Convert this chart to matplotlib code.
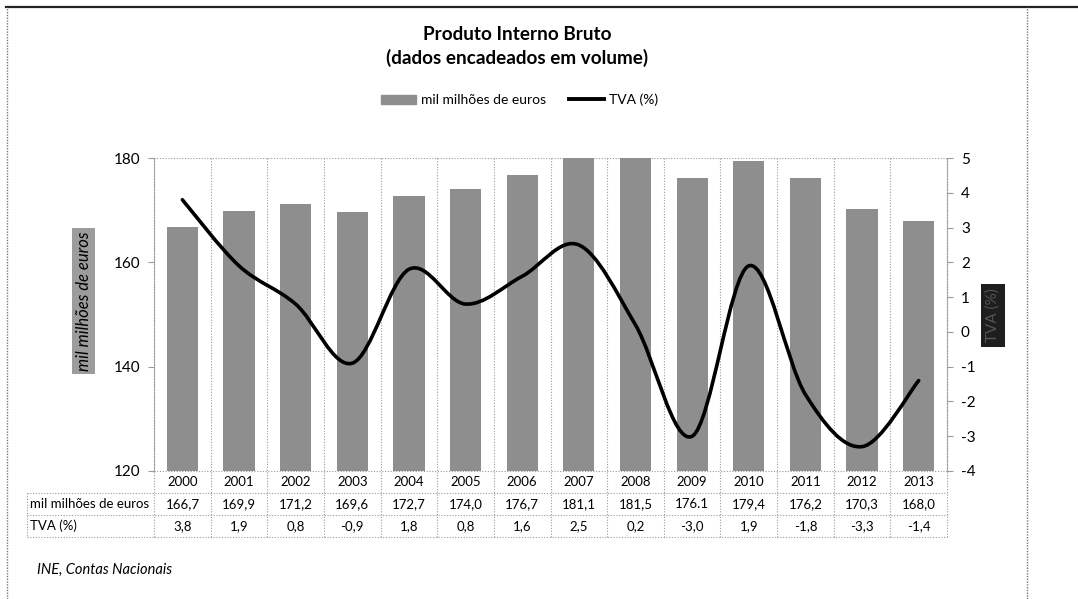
import matplotlib
matplotlib.use("Agg")
import matplotlib.pyplot as plt
from matplotlib.path import Path
from matplotlib.patches import PathPatch, Rectangle
from matplotlib.lines import Line2D
from matplotlib.transforms import blended_transform_factory

plt.rcParams["font.family"] = ["Lato", "DejaVu Sans"]
plt.rcParams["axes.unicode_minus"] = False

years = ["2000", "2001", "2002", "2003", "2004", "2005", "2006",
         "2007", "2008", "2009", "2010", "2011", "2012", "2013"]
pib = [166.7, 169.9, 171.2, 169.6, 172.7, 174.0, 176.7,
       181.1, 181.5, 176.1, 179.4, 176.2, 170.3, 168.0]
tva = [3.8, 1.9, 0.8, -0.9, 1.8, 0.8, 1.6, 2.5, 0.2, -3.0, 1.9, -1.8, -3.3, -1.4]
pib_labels = ["166,7", "169,9", "171,2", "169,6", "172,7", "174,0", "176,7",
              "181,1", "181,5", "176.1", "179,4", "176,2", "170,3", "168,0"]
tva_labels = ["3,8", "1,9", "0,8", "-0,9", "1,8", "0,8", "1,6",
              "2,5", "0,2", "-3,0", "1,9", "-1,8", "-3,3", "-1,4"]

bar_color = "#8e8e8e"
dotted = (0, (1, 1.5))
grid_kw = dict(color="#9a9a9a", lw=0.8, ls=dotted)

fig = plt.figure(figsize=(10.78, 5.99), dpi=100)
ax = fig.add_axes([0.1429, 0.2137, 0.7356, 0.5225])
ax2 = ax.twinx()

x = list(range(len(years)))
ax.bar(x, pib, width=0.55, color=bar_color, zorder=2)
ax.set_xlim(-0.5, len(years) - 0.5)
ax.set_ylim(120, 180)
ax.set_yticks([120, 140, 160, 180])
ax.set_xticks([])
ax2.set_ylim(-4, 5)
ax2.set_yticks(range(-4, 6))

for a in (ax, ax2):
    for s in a.spines.values():
        s.set_visible(False)
    a.tick_params(axis="y", length=4, width=0.8, color="#9a9a9a",
                  labelsize=11, pad=6)
ax.spines["left"].set_visible(True)
ax.spines["left"].set(color="#9a9a9a", lw=0.8, ls=dotted)
ax2.spines["right"].set_visible(True)
ax2.spines["right"].set(color="#9a9a9a", lw=0.8, ls=dotted)
ax.axhline(180, zorder=1, **grid_kw)

# smoothed TVA line: Catmull-Rom segments turned into cubic Bezier curves
verts = [(x[0], tva[0])]
codes = [Path.MOVETO]
n = len(tva)
for i in range(n - 1):
    p0 = (x[max(i - 1, 0)], tva[max(i - 1, 0)])
    p1 = (x[i], tva[i])
    p2 = (x[i + 1], tva[i + 1])
    p3 = (x[min(i + 2, n - 1)], tva[min(i + 2, n - 1)])
    c1 = (p1[0] + (p2[0] - p0[0]) / 6, p1[1] + (p2[1] - p0[1]) / 6)
    c2 = (p2[0] - (p3[0] - p1[0]) / 6, p2[1] - (p3[1] - p1[1]) / 6)
    verts += [c1, c2, p2]
    codes += [Path.CURVE4] * 3
ax2.add_patch(PathPatch(Path(verts, codes), fill=False, ec="black",
                        lw=2.6, capstyle="round", joinstyle="round", zorder=3))

# data table under the plot
tr = blended_transform_factory(ax.transData, ax.transAxes)
rows = [0.0, -0.0703, -0.1406, -0.2109]
left = -0.160
ax.plot([0, 1], [0, 0], transform=ax.transAxes, clip_on=False, **grid_kw)
for yv in rows[1:]:
    ax.plot([left, 1], [yv, yv], transform=ax.transAxes, clip_on=False, **grid_kw)
ax.plot([left, left], [rows[1], rows[3]], transform=ax.transAxes,
        clip_on=False, **grid_kw)
for b in [i - 0.5 for i in range(len(years) + 1)]:
    ax.plot([b, b], [1, rows[3]], transform=tr, clip_on=False, zorder=1, **grid_kw)

mid = [(rows[i] + rows[i + 1]) / 2 for i in range(3)]
for i in x:
    ax.text(i, mid[0], years[i], transform=tr, ha="center", va="center", fontsize=9.5)
    ax.text(i, mid[1], pib_labels[i], transform=tr, ha="center", va="center", fontsize=9.5)
    ax.text(i, mid[2], tva_labels[i], transform=tr, ha="center", va="center", fontsize=9.5)
ax.text(left + 0.003, mid[1], "mil milhões de euros", transform=ax.transAxes,
        ha="left", va="center", fontsize=9.5)
ax.text(left + 0.003, mid[2], "TVA (%)", transform=ax.transAxes,
        ha="left", va="center", fontsize=9.5)

# axis titles
fig.text(0.0775, 0.4975, "mil milhões de euros", rotation=90, style="italic",
         ha="center", va="center", fontsize=12,
         bbox=dict(boxstyle="square,pad=0.2", fc="#9c9c9c", ec="none"))
fig.text(0.921, 0.474, "TVA (%)", rotation=90, ha="center", va="center",
         fontsize=11, color="#555555",
         bbox=dict(boxstyle="square,pad=0.3", fc="#1e1e1e", ec="none"))

# title and legend
fig.text(0.48, 0.942, "Produto Interno Bruto", ha="center", va="center",
         fontsize=13.6, fontweight="bold")
fig.text(0.48, 0.903, "(dados encadeados em volume)", ha="center", va="center",
         fontsize=13.6, fontweight="bold")
handles = [Rectangle((0, 0), 1, 1, color=bar_color),
           Line2D([], [], color="black", lw=2.8)]
fig.legend(handles, ["mil milhões de euros", "TVA (%)"], loc="center",
           bbox_to_anchor=(0.482, 0.833), ncol=2, frameon=False, fontsize=10,
           handlelength=2.5, handletextpad=0.35, columnspacing=1.7)

fig.text(0.034, 0.048, "INE, Contas Nacionais", style="italic", fontsize=10.5,
         ha="left", va="center")

# chart frame: solid top rule, dotted sides
fig.add_artist(Line2D([0.006, 1.0], [0.988, 0.988], transform=fig.transFigure,
                      color="#222222", lw=1.6))
for fx in (0.0065, 0.9525):
    fig.add_artist(Line2D([fx, fx], [0.0, 0.988], transform=fig.transFigure,
                          color="#777777", lw=1.0, ls=(0, (1, 1))))

fig.savefig("out.png", dpi=100)
